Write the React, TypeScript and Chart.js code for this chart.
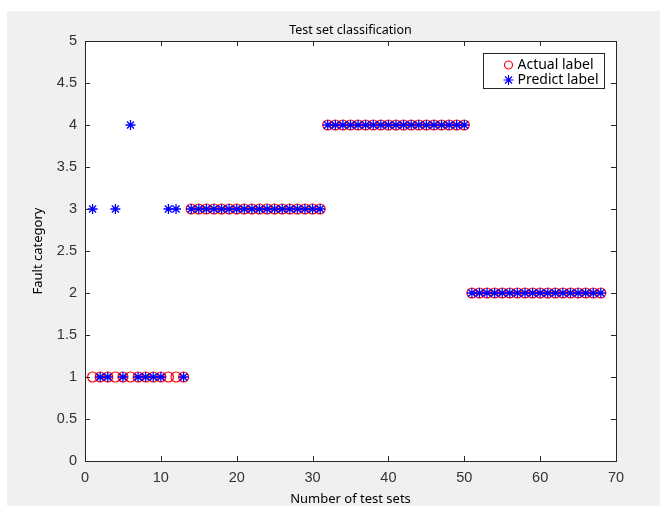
import React, { useEffect, useRef } from "react";
import { Chart, registerables } from "chart.js";

Chart.register(...registerables);

const testIndex = [
  1, 2, 3, 4, 5, 6, 7, 8, 9, 10, 11, 12, 13, 14, 15, 16, 17, 18, 19, 20,
  21, 22, 23, 24, 25, 26, 27, 28, 29, 30, 31, 32, 33, 34, 35, 36, 37, 38, 39, 40,
  41, 42, 43, 44, 45, 46, 47, 48, 49, 50, 51, 52, 53, 54, 55, 56, 57, 58, 59, 60,
  61, 62, 63, 64, 65, 66, 67, 68,
];

const actualLabel = [
  1, 1, 1, 1, 1, 1, 1, 1, 1, 1, 1, 1, 1,
  3, 3, 3, 3, 3, 3, 3, 3, 3, 3, 3, 3, 3, 3, 3, 3, 3, 3,
  4, 4, 4, 4, 4, 4, 4, 4, 4, 4, 4, 4, 4, 4, 4, 4, 4, 4, 4,
  2, 2, 2, 2, 2, 2, 2, 2, 2, 2, 2, 2, 2, 2, 2, 2, 2, 2,
];

const predictLabel = [
  3, 1, 1, 3, 1, 4, 1, 1, 1, 1, 3, 3, 1,
  3, 3, 3, 3, 3, 3, 3, 3, 3, 3, 3, 3, 3, 3, 3, 3, 3, 3,
  4, 4, 4, 4, 4, 4, 4, 4, 4, 4, 4, 4, 4, 4, 4, 4, 4, 4, 4,
  2, 2, 2, 2, 2, 2, 2, 2, 2, 2, 2, 2, 2, 2, 2, 2, 2, 2,
];

const xTickLabels = ["0", "10", "20", "30", "40", "50", "60", "70"];
const yTickLabels = ["0", "0.5", "1", "1.5", "2", "2.5", "3", "3.5", "4", "4.5", "5"];

const seriesNames = ["Actual label", "Predict label"];
const titleText = "Test set classification";
const xTitle = "Number of test sets";
const yTitle = "Fault category";

const W = 660;
const H = 506;

const framePlugin = {
  id: "matlabFrame",
  beforeDraw(chart: any) {
    const { ctx, chartArea } = chart;
    ctx.save();
    ctx.fillStyle = "#ffffff";
    ctx.fillRect(0, 0, chart.width, chart.height);
    ctx.fillStyle = "#f0f0f0";
    ctx.fillRect(7, 11, chart.width - 7, chart.height - 11);
    ctx.fillStyle = "#ffffff";
    ctx.fillRect(chartArea.left, chartArea.top, chartArea.right - chartArea.left, chartArea.bottom - chartArea.top);
    ctx.restore();
  },
  afterDraw(chart: any) {
    const { ctx, chartArea } = chart;
    const { left, right, top, bottom } = chartArea;
    const xs = chart.scales.x;
    const ys = chart.scales.y;
    ctx.save();
    ctx.strokeStyle = "#262626";
    ctx.lineWidth = 1;
    ctx.beginPath();
    const tl = 5;
    xs.ticks.forEach((t: any) => {
      const px = Math.round(xs.getPixelForValue(t.value)) + 0.5;
      ctx.moveTo(px, bottom);
      ctx.lineTo(px, bottom - tl);
      ctx.moveTo(px, top);
      ctx.lineTo(px, top + tl);
    });
    ys.ticks.forEach((t: any) => {
      const py = Math.round(ys.getPixelForValue(t.value)) + 0.5;
      ctx.moveTo(left, py);
      ctx.lineTo(left + tl, py);
      ctx.moveTo(right, py);
      ctx.lineTo(right - tl, py);
    });
    ctx.stroke();
    ctx.strokeRect(Math.round(left) + 0.5, Math.round(top) + 0.5, Math.round(right - left), Math.round(bottom - top));

    // title, centred over the axes
    ctx.fillStyle = "#000000";
    ctx.font = "12.5px 'Noto Sans'";
    ctx.textAlign = "center";
    ctx.textBaseline = "middle";
    ctx.fillText(titleText, (left + right) / 2, 30);

    // legend
    const lx = 483.5, ly = 53.5, lw = 121, lh = 35;
    ctx.fillStyle = "#ffffff";
    ctx.fillRect(lx, ly, lw, lh);
    ctx.strokeStyle = "#262626";
    ctx.strokeRect(lx, ly, lw, lh);
    ctx.font = "14px 'Noto Sans'";
    ctx.textBaseline = "middle";
    ctx.textAlign = "left";
    const rows = [ly + 11.5, ly + 26.5];
    chart.data.datasets.forEach((ds: any, i: number) => {
      const cy = rows[i];
      const cx = lx + 25;
      ctx.lineWidth = 1.2;
      ctx.strokeStyle = ds.borderColor;
      ctx.beginPath();
      if (ds.pointStyle === "circle") {
        ctx.arc(cx, cy, 4, 0, Math.PI * 2);
      } else {
        const r = 5;
        ctx.moveTo(cx - r, cy); ctx.lineTo(cx + r, cy);
        ctx.moveTo(cx, cy - r); ctx.lineTo(cx, cy + r);
        const d = r * Math.SQRT1_2;
        ctx.moveTo(cx - d, cy - d); ctx.lineTo(cx + d, cy + d);
        ctx.moveTo(cx - d, cy + d); ctx.lineTo(cx + d, cy - d);
      }
      ctx.stroke();
      ctx.fillStyle = "#000000";
      ctx.fillText(ds.label, lx + 34, cy);
    });
    ctx.restore();
  },
};

export default function App() {
  const ref = useRef<HTMLCanvasElement | null>(null);
  useEffect(() => {
    if (!ref.current) return;
    const chart = new Chart(ref.current, {
      type: "scatter",
      data: {
        datasets: [
          {
            label: seriesNames[0],
            data: testIndex.map((x, i) => ({ x, y: actualLabel[i] })),
            pointStyle: "circle",
            pointRadius: 5,
            pointBorderWidth: 1.2,
            borderColor: "#ff0000",
            backgroundColor: "rgba(0,0,0,0)",
            order: 2,
          },
          {
            label: seriesNames[1],
            data: testIndex.map((x, i) => ({ x, y: predictLabel[i] })),
            pointStyle: "star",
            pointRadius: 5,
            pointBorderWidth: 1.3,
            borderColor: "#0000ff",
            backgroundColor: "#0000ff",
            order: 1,
          },
        ],
      },
      options: {
        responsive: false,
        animation: false,
        devicePixelRatio: 1,
        layout: { padding: { left: 0, right: 44, top: 41, bottom: 0 } },
        plugins: {
          legend: { display: false },
          tooltip: { enabled: false },
          title: { display: false },
        },
        scales: {
          x: {
            type: "linear",
            min: 0,
            max: 70,
            afterBuildTicks: (s: any) => {
              s.ticks = xTickLabels.map((l) => ({ value: Number(l) }));
            },
            afterFit: (s: any) => { s.height = 45; },
            grid: { display: false, drawTicks: false },
            border: { display: false },
            ticks: {
              padding: 8,
              color: "#333333",
              font: { family: "'Liberation Sans'", size: 14.5 },
              maxRotation: 0,
              callback: (v: any) => xTickLabels.find((l) => Number(l) === v) ?? "",
            },
            title: {
              display: true,
              text: xTitle,
              color: "#000000",
              font: { family: "'Noto Sans'", size: 13 },
              padding: { top: 0, bottom: -1 },
            },
          },
          y: {
            type: "linear",
            min: 0,
            max: 5,
            afterBuildTicks: (s: any) => {
              s.ticks = yTickLabels.map((l) => ({ value: Number(l) }));
            },
            afterFit: (s: any) => { s.width = 85; },
            grid: { display: false, drawTicks: false },
            border: { display: false },
            ticks: {
              padding: 8,
              color: "#333333",
              font: { family: "'Liberation Sans'", size: 14.5 },
              callback: (v: any) => yTickLabels.find((l) => Number(l) === v) ?? "",
            },
            title: {
              display: true,
              text: yTitle,
              color: "#000000",
              font: { family: "'Noto Sans'", size: 13 },
              padding: { top: 30, bottom: 0 },
            },
          },
        },
      },
      plugins: [framePlugin],
    });
    return () => chart.destroy();
  }, []);
  return (
    <canvas
      ref={ref}
      width={W}
      height={H}
      style={{ position: "fixed", left: 0, top: 0, display: "block", width: W + "px", height: H + "px" }}
    />
  );
}
